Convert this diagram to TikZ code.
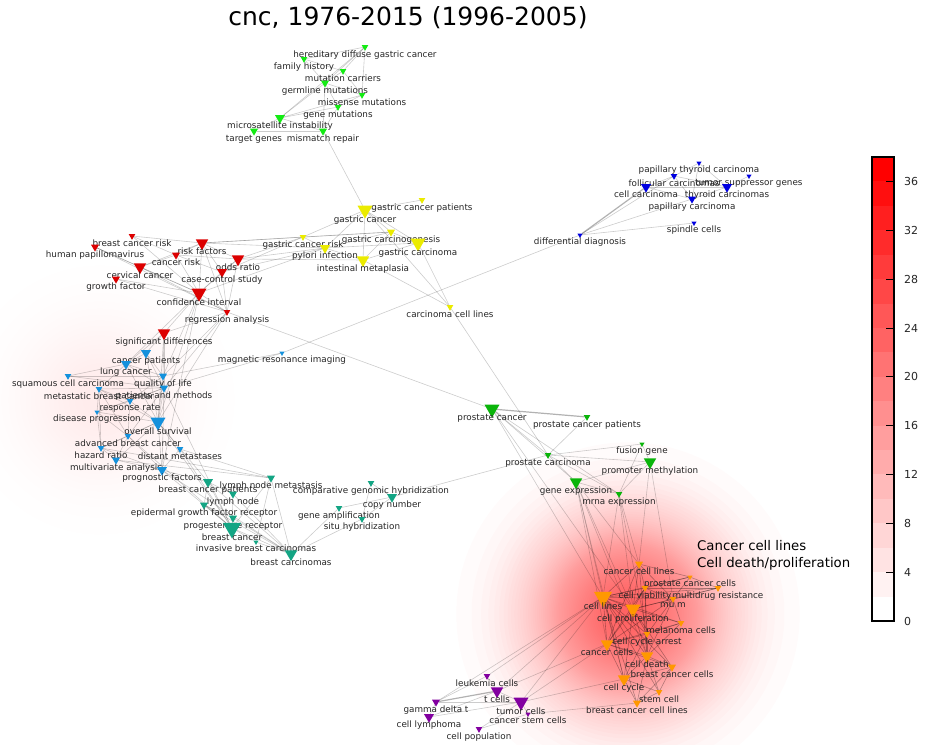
\documentclass[tikz,border=0pt]{standalone}
\usepackage{fontspec}
\setmainfont{DejaVu Sans}
\usepackage{tikz}
\usetikzlibrary{positioning}
\usetikzlibrary{shapes.geometric}
\usetikzlibrary{backgrounds}
\definecolor{cgreen}{RGB}{20,235,20}
\definecolor{cyellow}{RGB}{235,235,0}
\definecolor{cred}{RGB}{220,0,0}
\definecolor{cblue}{RGB}{20,145,220}
\definecolor{cteal}{RGB}{20,165,132}
\definecolor{cforest}{RGB}{10,180,10}
\definecolor{corange}{RGB}{255,152,0}
\definecolor{cpurple}{RGB}{130,0,160}
\definecolor{cnavy}{RGB}{0,0,225}

\tikzset{
  kw/.style={regular polygon, regular polygon sides=3, shape border rotate=180,
    inner sep=0pt, outer sep=0pt, fill=#1},
  tag/.style={font=\fontsize{8.8}{10}\selectfont, text=black!85, inner sep=0pt},
  m1/.style={minimum size=6pt, label={[tag]below:#1}},
  m2/.style={minimum size=7.6pt, label={[tag, yshift=0.3pt]below:#1}},
  m3/.style={minimum size=9.2pt, label={[tag, yshift=0.8pt]below:#1}},
  m4/.style={minimum size=11.5pt, label={[tag, yshift=1.7pt]below:#1}},
  m5/.style={minimum size=14.4pt, label={[tag, yshift=2.5pt]below:#1}},
  m6/.style={minimum size=17.3pt, label={[tag, yshift=3.4pt]below:#1}},
  m7/.style={minimum size=21pt, label={[tag, yshift=4.8pt]below:#1}},
  link/.style={draw=black, opacity=0.2, line width=0.6pt},
  heavy/.style={draw=black, opacity=0.3, line width=1.2pt},
  dense/.style={draw=black, opacity=0.3, line width=0.6pt},
}

\begin{document}
\begin{tikzpicture}[x=1pt, y=-1pt]
        \useasboundingbox (0,0) rectangle (930,745);
        % title %
        \node[font=\fontsize{25}{30}\selectfont] (title) at (408,18) {cnc, 1976-2015 (1996-2005)};

        % nodes: hereditary cancer %
        \node[kw=cgreen, m2=hereditary diffuse gastric cancer] (hdgc) at (365,47) {};
        \node[kw=cgreen, m2=family history] (fh) at (304,59) {};
        \node[kw=cgreen, m2=mutation carriers] (mc) at (343,71) {};
        \node[kw=cgreen, m3=germline mutations] (gm) at (325,83) {};
        \node[kw=cgreen, m2=missense mutations] (mm) at (362,95) {};
        \node[kw=cgreen, m2=gene mutations] (gmu) at (338,107) {};
        \node[kw=cgreen, m4=microsatellite instability] (mi) at (280,118) {};
        \node[kw=cgreen, m3=target genes] (tg) at (254,131) {};
        \node[kw=cgreen, m3=mismatch repair] (mr) at (323,131) {};

        % nodes: gastric %
        \node[kw=cyellow, m2=gastric cancer patients] (gcp) at (422,200) {};
        \node[kw=cyellow, m6=gastric cancer] (gc) at (365,210) {};
        \node[kw=cyellow, m3=gastric carcinogenesis] (gcg) at (391,232) {};
        \node[kw=cyellow, m6=gastric carcinoma] (gcar) at (418,243) {};
        \node[kw=cyellow, m2=gastric cancer risk] (gcr) at (303,237) {};
        \node[kw=cyellow, m4=pylori infection] (pi) at (325,248) {};
        \node[kw=cyellow, m5=intestinal metaplasia] (im) at (363,260) {};
        \node[kw=cyellow, m2=carcinoma cell lines] (carl) at (450,307) {};

        % nodes: risk %
        \node[kw=cred, m2=breast cancer risk] (bcr) at (132,236) {};
        \node[kw=cred, m3=human papillomavirus] (hp) at (95,247) {};
        \node[kw=cred, m5=risk factors] (rf) at (202,243) {};
        \node[kw=cred, m3=cancer risk] (cr) at (176,255) {};
        \node[kw=cred, m5=odds ratio] (or) at (238,259) {};
        \node[kw=cred, m5=cervical cancer] (cc) at (140,267) {};
        \node[kw=cred, m4=case-control study] (ccs) at (222,272) {};
        \node[kw=cred, m3=growth factor] (gf) at (116,279) {};
        \node[kw=cred, m6=confidence interval] (ci) at (199,293) {};
        \node[kw=cred, m2=regression analysis] (ra) at (227,312) {};
        \node[kw=cred, m5=significant differences] (sd) at (164,333) {};

        % nodes: clinical %
        \node[kw=cblue, m4=cancer patients] (cp) at (146,353) {};
        \node[kw=cblue, m4=lung cancer] (lc) at (126,364) {};
        \node[kw=cblue, m1=magnetic resonance imaging] (mri) at (282,353) {};
        \node[kw=cblue, m2=squamous cell carcinoma] (scc) at (68,376) {};
        \node[kw=cblue, m3=quality of life] (qol) at (163,376) {};
        \node[kw=cblue, m3=patients and methods] (pam) at (164,388) {};
        \node[kw=cblue, m2=metastatic breast cancer] (mbc) at (99,389) {};
        \node[kw=cblue, m2=response rate] (rr) at (130,401) {};
        \node[kw=cblue, m1=disease progression] (dp) at (97,412) {};
        \node[kw=cblue, m6=overall survival] (os) at (158,422) {};
        \node[kw=cblue, m2=advanced breast cancer] (abc) at (128,436) {};
        \node[kw=cblue, m2=distant metastases] (dm) at (180,449) {};
        \node[kw=cblue, m2=hazard ratio] (hr) at (101,448) {};
        \node[kw=cblue, m3=multivariate analysis] (ma) at (116,460) {};
        \node[kw=cblue, m4=prognostic factors] (pf) at (162,470) {};

        % nodes: breast %
        \node[kw=cteal, m4=breast cancer patients] (bcp) at (208,482) {};
        \node[kw=cteal, m3=lymph node metastasis] (lnm) at (271,478) {};
        \node[kw=cteal, m3=lymph node] (ln) at (233,494) {};
        \node[kw=cteal, m2=comparative genomic hybridization] (cgh) at (371,483) {};
        \node[kw=cteal, m4=copy number] (cn) at (392,497) {};
        \node[kw=cteal, m3=epidermal growth factor receptor] (egfr) at (204,505) {};
        \node[kw=cteal, m2=gene amplification] (ga) at (339,508) {};
        \node[kw=cteal, m2=situ hybridization] (sh) at (362,519) {};
        \node[kw=cteal, m3=progesterone receptor] (pr) at (233,518) {};
        \node[kw=cteal, m7=breast cancer] (bc) at (232,528) {};
        \node[kw=cteal, m1=invasive breast carcinomas] (ibc) at (256,542) {};
        \node[kw=cteal, m5=breast carcinomas] (bcs) at (291,554) {};

        % nodes: prostate %
        \node[kw=cforest, m6=prostate cancer] (pcan) at (492,409) {};
        \node[kw=cforest, m2=prostate cancer patients] (pcp) at (587,417) {};
        \node[kw=cforest, m1=fusion gene] (fg) at (642,444) {};
        \node[kw=cforest, m2=prostate carcinoma] (pcar) at (548,455) {};
        \node[kw=cforest, m5=promoter methylation] (pm) at (650,462) {};
        \node[kw=cforest, m5=gene expression] (ge) at (576,482) {};
        \node[kw=cforest, m2=mrna expression] (me) at (619,494) {};

        % nodes: cell lines %
        \node[kw=corange, m3=cancer cell lines] (ccl) at (639,564) {};
        \node[kw=corange, m1=prostate cancer cells] (pcc) at (690,577) {};
        \node[kw=corange, m2=cell viability] (cv) at (645,588) {};
        \node[kw=corange, m2=multidrug resistance] (mdr) at (718,588) {};
        \node[kw=corange, m2=mu m] (mum) at (673,599) {};
        \node[kw=corange, m7=cell lines] (cl) at (603,597) {};
        \node[kw=corange, m6=cell proliferation] (cpro) at (633,609) {};
        \node[kw=corange, m2=melanoma cells] (mel) at (681,623) {};
        \node[kw=corange, m2=cell cycle arrest] (cca) at (647,634) {};
        \node[kw=corange, m5=cancer cells] (cac) at (607,644) {};
        \node[kw=corange, m5=cell death] (cd) at (647,656) {};
        \node[kw=corange, m3=breast cancer cells] (bcc) at (672,667) {};
        \node[kw=corange, m5=cell cycle] (cyc) at (624,679) {};
        \node[kw=corange, m2=stem cell] (stc) at (659,692) {};
        \node[kw=corange, m3=breast cancer cell lines] (bccl) at (637,703) {};

        % nodes: immune %
        \node[kw=cpurple, m2=leukemia cells] (lk) at (487,676) {};
        \node[kw=cpurple, m5=t cells] (tcel) at (497,691) {};
        \node[kw=cpurple, m6=tumor cells] (tc) at (521,702) {};
        \node[kw=cpurple, m3=gamma delta t] (gdt) at (436,702) {};
        \node[kw=cpurple, m1=cancer stem cells] (csc) at (528,714) {};
        \node[kw=cpurple, m4=cell lymphoma] (cly) at (429,717) {};
        \node[kw=cpurple, m2=cell population] (cpop) at (479,729) {};

        % nodes: thyroid %
        \node[kw=cnavy, m1=papillary thyroid carcinoma] (ptc) at (699,163) {};
        \node[kw=cnavy, m2=follicular carcinomas] (fc) at (674,176) {};
        \node[kw=cnavy, m1=tumor suppressor genes] (tsg) at (749,176) {};
        \node[kw=cnavy, m4=cell carcinoma] (celc) at (646,187) {};
        \node[kw=cnavy, m4=thyroid carcinomas] (thc) at (727,187) {};
        \node[kw=cnavy, m3=papillary carcinoma] (pc) at (692,199) {};
        \node[kw=cnavy, m1=spindle cells] (spc) at (694,223) {};
        \node[kw=cnavy, m1=differential diagnosis] (dd) at (580,235) {};

        % cluster note %
        \node[anchor=base west, inner sep=0pt, font=\fontsize{13.3}{16}\selectfont] (note1) at (697,550) {Cancer cell lines};
        \node[anchor=base west, inner sep=0pt, font=\fontsize{13.3}{16}\selectfont] (note2) at (697,567) {Cell death/proliferation};

        % colour bar %
        \foreach \i [evaluate=\i as \pct using int(\i*100/18)] in {0,...,18}
          \fill[red!\pct!white] (872,{621-\i*24.42}) rectangle (894,{621-(\i+1)*24.42});
        \draw[line width=1.6pt] (872,157) rectangle (894,621);
        \foreach \v in {4,8,...,36}
          \draw[line width=0.8pt] (894,{621-\v*12.21}) -- (886,{621-\v*12.21});
        \foreach \v in {0,4,...,36}
          \node[anchor=west, inner sep=0pt, text=black!85, font=\fontsize{11}{13}\selectfont] (cb\v) at (904,{621-\v*12.21}) {\v};

        % edges %
        \begin{scope}[on background layer]
        % density glow %
        \foreach \k [evaluate=\k as \rad using {60*sqrt(2*ln(60/\k))}] in {1,...,59}
          \fill[red, opacity=0.016] (628,614) circle (\rad);
        \foreach \k [evaluate=\k as \rad using {55*sqrt(2*ln(20/\k))}] in {1,...,19}
          \fill[red, opacity=0.004] (100,400) circle (\rad);
        \foreach \a/\b in {hdgc/fh, hdgc/mc, hdgc/gm, hdgc/mm, hdgc/mi, fh/gm, fh/mc, mc/gm, mc/mm,
            gm/mm, gm/gmu, gm/mi, gm/mr, mm/gmu, mm/mi, gmu/mi, gmu/mr, mi/tg, mi/mr, tg/mr, mr/gc}
          \draw[link] (\a) -- (\b);
        \foreach \a/\b in {gc/gcp, gc/gcr, gc/pi, gc/im, gc/gcg, gc/gcar, gcg/gcr, gcg/pi, gcg/gcar,
            gcg/im, gcr/pi, pi/im, pi/gcar, im/gcar, gcar/carl, im/carl, gc/carl, gcg/rf, gcr/rf,
            pi/rf, pi/or, gcr/or, gcr/ccs, pi/ccs, im/or, pi/ci}
          \draw[link] (\a) -- (\b);
        \foreach \a/\b in {bcr/cr, bcr/rf, bcr/ci, hp/cc, hp/ci, hp/ra, rf/cr, rf/or, rf/ccs, rf/ci,
            rf/ra, cr/ci, cr/or, cr/ccs, or/ccs, or/ci, or/ra, ccs/ci, ccs/ra, cc/ci, cc/rf, cc/ra,
            gf/ci, gf/ra, ci/ra, ci/sd, ra/sd, cr/cc, sd/cp, sd/qol, sd/pam, sd/os, sd/lc, ci/qol,
            ci/os, ci/lc, ra/pam, ra/os, ci/pf, ra/qol}
          \draw[link] (\a) -- (\b);
        \foreach \a/\b in {cp/lc, cp/qol, cp/os, cp/pam, lc/scc, lc/qol, lc/os, lc/pam, lc/mbc,
            scc/pam, scc/qol, qol/pam, qol/os, qol/rr, pam/mbc, pam/rr, pam/os, pam/dp, pam/abc,
            pam/pf, mbc/rr, mbc/os, mbc/dp, mbc/abc, mbc/hr, rr/os, rr/dp, rr/abc, dp/os, dp/abc,
            dp/hr, os/abc, os/dm, os/hr, os/ma, os/pf, abc/hr, abc/ma, abc/pf, hr/ma, ma/pf, dm/pf,
            pf/hr, mri/qol, mri/pam, dd/mri}
          \draw[link] (\a) -- (\b);
        \foreach \a/\b in {pf/bcp, os/bc, dm/bc, ma/lnm, hr/lnm, os/bcp, pf/bc, abc/bc, pam/bc,
            dm/lnm, pf/bcs, bc/bcp, bc/ln, bc/egfr, bc/pr, bc/ibc, bc/bcs, bc/lnm, bcp/ln, bcp/egfr,
            bcp/bcs, ln/bcs, egfr/bcs, pr/bcs, ibc/bcs, lnm/ibc, lnm/bcs, bcs/sh, bcs/ga, sh/cgh,
            sh/cn, cgh/cn, ga/cn, cn/pcar, pr/egfr}
          \draw[link] (\a) -- (\b);
        \foreach \a/\b in {pcan/pcar, pcan/ge, pcan/me, pcar/pcp, pcar/fg, pcar/ge, pcar/me,
            pcar/pm, fg/me, fg/pm, pm/me, pm/ge, ge/me, carl/pcar, ra/pcan, ge/cl, ge/cpro, ge/cac,
            ge/cd, ge/cyc, ge/ccl, me/cl, me/ccl, me/cpro, me/cca, pcan/cl, pcan/cpro, pm/ccl, pm/mum}
          \draw[link] (\a) -- (\b);
        \foreach \a/\b in {ccl/cl, ccl/cpro, ccl/mum, ccl/pcc, ccl/cv, ccl/cac, ccl/cd, pcc/cv,
            pcc/mum, pcc/mdr, pcc/cl, cv/cl, cv/cpro, cv/mum, cv/mdr, cv/cac, cv/cd, cv/cca, mdr/cl,
            mdr/mum, mdr/cpro, mum/cl, mum/cpro, mum/mel, mum/cca, mum/cd, mum/cac, cl/cpro,
            cl/cac, cl/cd, cl/cyc, cl/cca, cl/mel, cl/bcc, cl/stc, cl/bccl, cpro/mel, cpro/cca,
            cpro/cac, cpro/cd, cpro/cyc, cpro/bcc, mel/cca, mel/cd, mel/cac, cca/cac, cca/cd,
            cca/cyc, cac/cd, cac/cyc, cac/bcc, cd/cyc, cd/bcc, cd/stc, cd/bccl, bcc/cyc, bcc/stc,
            bcc/bccl, cyc/stc, cyc/bccl, stc/bccl}
          \draw[dense] (\a) -- (\b);
        \foreach \a/\b in {cl/lk, cl/tcel, cac/tc, cyc/tc, bccl/csc, cl/tc, cl/gdt, cac/tcel,
            gdt/lk, gdt/tc, cly/tcel, cly/tc, cly/gdt, tcel/tc, lk/tcel, tc/cpop, tc/csc, cpop/csc}
          \draw[link] (\a) -- (\b);
        \foreach \a/\b in {dd/fc, dd/pc, dd/spc, fc/ptc, fc/celc, fc/thc, fc/pc, ptc/thc, ptc/pc,
            celc/pc, celc/thc, thc/pc, tsg/thc}
          \draw[link] (\a) -- (\b);
        \draw[heavy] (pcan) -- (pcp);
        \draw[heavy] (gdt) -- (tcel);
        \draw[heavy] (dd) -- (celc);
        \end{scope}
\end{tikzpicture}
\end{document}
